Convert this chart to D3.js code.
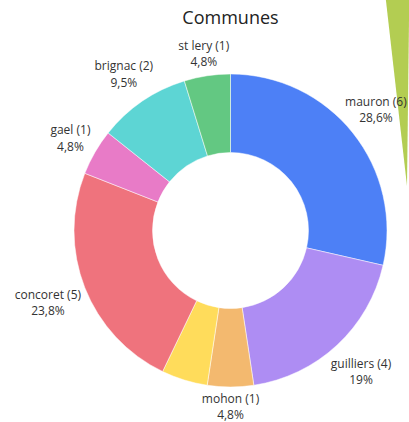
<!DOCTYPE html>
<meta charset=utf-8>
<script src="https://cdn.jsdelivr.net/npm/d3@7"></script>
<style>
body { margin: 0; background: white }
svg { display: block; font-family: "Open Sans", sans-serif }
</style>
<body>
<svg id=chart width=409 height=422></svg>
</body>
<script>
// data
const communes = ["mauron", "guilliers", "mohon", "autre", "concoret", "gael", "brignac", "st lery"];
const nombres = [6, 4, 1, 1, 5, 1, 2, 1];
const couleurs = ["#4d80f6", "#ae8df3", "#f3b96f", "#ffdc5b", "#ef737d", "#e87bc7", "#5dd5d4", "#63c882"];

const W = 409, H = 422;
const cx = 230.5, cy = 230.5, R = 156.5, r = 78;
const svg = d3.select(chart);

// bout de la part voisine (coupé par le bord)
svg.append("path")
	.attr("transform", "translate(407,186)")
	.attr("fill", "#b3cd52")
	.attr("d", d3.arc()({innerRadius: 0, outerRadius: 260, startAngle: -0.113, endAngle: 0.012}));

svg.append("text")
	.attr("x", cx).attr("y", 24)
	.attr("text-anchor", "middle")
	.attr("font-size", 18)
	.attr("fill", "#222")
	.text("Communes");

const total = d3.sum(nombres);
const data = communes.map((c, i) => ({nom: c, n: nombres[i], couleur: couleurs[i]}));
const pie = d3.pie().value(d => d.n).sort(null);
const arcs = pie(data);
const arc = d3.arc().innerRadius(r).outerRadius(R);

const g = svg.append("g").attr("transform", `translate(${cx},${cy})`);
g.selectAll("path")
	.data(arcs)
	.join("path")
		.attr("d", arc)
		.attr("fill", d => d.data.couleur)
		.attr("stroke", "white")
		.attr("stroke-width", 0.5);

const pct = v => d3.format(".1f")(v).replace(/\.0$/, "").replace(".", ",") + "%";

// étiquettes : le bord de la boîte touche un cercle juste au-delà de l'anneau,
// celles qui en chevauchent une autre sont masquées
const pad = 8;
const placees = [];
const labels = g.append("g").attr("font-size", 12).attr("fill", "#333").attr("text-anchor", "middle");
for (const a of arcs) {
	const t = labels.append("text");
	t.append("tspan").attr("x", 0).attr("dy", "-0.2em").text(`${a.data.nom} (${a.data.n})`);
	t.append("tspan").attr("x", 0).attr("dy", "1.35em").text(pct(a.data.n / total * 100));
	const bb = t.node().getBBox();
	const ang = (a.startAngle + a.endAngle) / 2;
	const s = Math.sin(ang), c = -Math.cos(ang);
	const d = 159 + Math.abs(s) * bb.width / 2 + Math.abs(c) * bb.height / 2;
	let x = s * d, y = c * d;
	// garder dans la fenêtre
	x = Math.min(x, W - cx - 2 - bb.width / 2);
	x = Math.max(x, -cx + 2 + bb.width / 2);
	const box = {x0: x - bb.width / 2 - pad, x1: x + bb.width / 2 + pad, y0: y - bb.height / 2, y1: y + bb.height / 2};
	if (placees.some(b => b.x0 < box.x1 && box.x0 < b.x1 && b.y0 < box.y1 && box.y0 < b.y1)) {
		t.remove();
		continue;
	}
	placees.push(box);
	t.attr("transform", `translate(${x},${y - bb.y - bb.height / 2})`);
}
</script>
